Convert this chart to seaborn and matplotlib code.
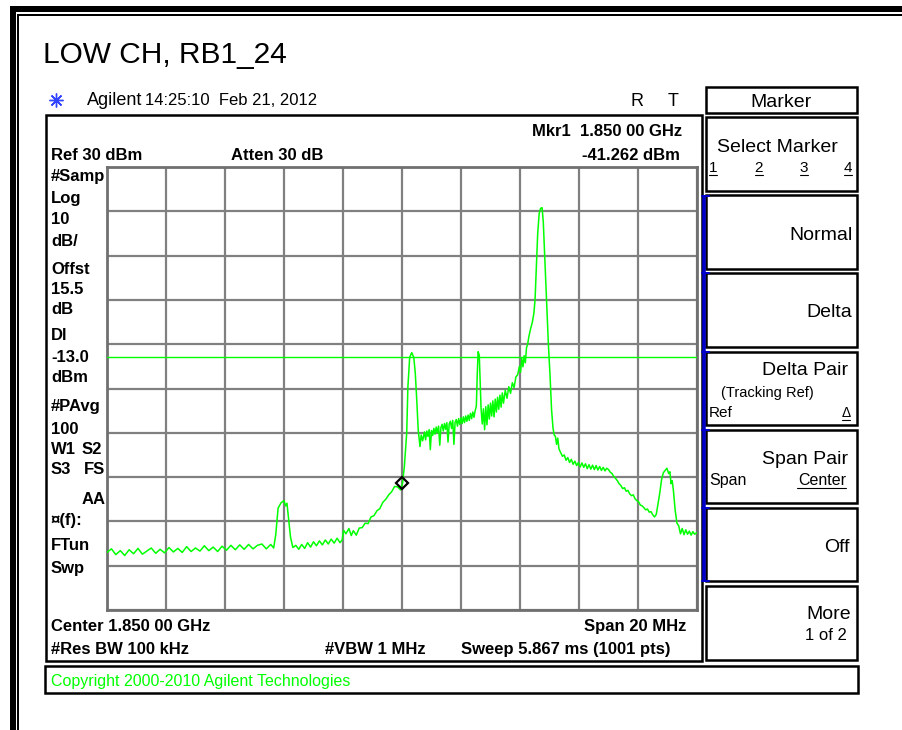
import numpy as np
import pandas as pd
import matplotlib
matplotlib.use("Agg")
import matplotlib.pyplot as plt
from matplotlib.patches import Rectangle
import seaborn as sns

sns.set_style("white")
plt.rcParams['font.family'] = ['Liberation Sans', 'DejaVu Sans']

# trace: offset from 1.850 GHz (MHz) vs level (dBm)
freq_mhz = [
    -10.0, -9.85, -9.7, -9.55, -9.4, -9.25, -9.1, -8.95, -8.8, -8.65, -8.5, -8.35, -8.2, -8.05,
    -7.9, -7.75, -7.6, -7.45, -7.3, -7.15, -7.0, -6.85, -6.7, -6.55, -6.4, -6.25, -6.1, -5.95,
    -5.8, -5.65, -5.5, -5.35, -5.2, -5.05, -4.9, -4.75, -4.6, -4.45, -4.35,
    -4.28, -4.2, -4.1, -4.0, -3.95, -3.9, -3.85, -3.78, -3.7, -3.6, -3.5, -3.4, -3.3, -3.2,
    -3.1, -3.0, -2.9, -2.8, -2.7, -2.6, -2.5, -2.4, -2.3, -2.2, -2.1, -2.03,
    -1.98, -1.9, -1.8, -1.72, -1.65, -1.55, -1.45, -1.35, -1.25, -1.15, -1.05, -0.95, -0.85,
    -0.75, -0.65, -0.55, -0.45, -0.35, -0.25, -0.15, -0.05, 0.02, 0.08, 0.16, 0.2, 0.26,
    0.33, 0.4, 0.45, 0.5, 0.55, 0.61, 0.65, 0.7,
    0.76, 0.8, 0.84, 0.88, 0.92, 0.96, 1.0, 1.04, 1.08, 1.12, 1.16, 1.2, 1.24, 1.28, 1.32,
    1.36, 1.4, 1.44, 1.48, 1.52, 1.56, 1.6, 1.64, 1.68, 1.72, 1.76, 1.8, 1.84, 1.88, 1.92,
    1.96, 2.0, 2.04, 2.08, 2.12, 2.16, 2.2, 2.24, 2.28, 2.32, 2.36, 2.4, 2.44, 2.48,
    2.52, 2.55, 2.58, 2.62, 2.65, 2.68, 2.72, 2.76, 2.8, 2.84, 2.88, 2.92, 2.96, 3.0, 3.04,
    3.08, 3.12, 3.16, 3.2, 3.24, 3.28, 3.32, 3.36, 3.4, 3.44, 3.5, 3.56, 3.62, 3.68, 3.74,
    3.8, 3.86, 3.92, 3.98, 4.02, 4.06, 4.1, 4.14, 4.18, 4.22, 4.26,
    4.3, 4.36, 4.42, 4.47, 4.51, 4.56, 4.6, 4.65, 4.7, 4.75, 4.79, 4.83, 4.87, 4.91, 4.96,
    5.02, 5.07, 5.12, 5.16, 5.2, 5.24, 5.28, 5.32, 5.38, 5.44, 5.5, 5.56, 5.62, 5.68, 5.74,
    5.8, 5.86, 5.92, 5.98, 6.04, 6.1, 6.16, 6.22, 6.28, 6.34, 6.4, 6.46, 6.52, 6.58, 6.64,
    6.7, 6.76, 6.82, 6.88, 6.94, 7.0, 7.06, 7.12, 7.18, 7.24, 7.3, 7.36, 7.42, 7.48, 7.54,
    7.6, 7.66, 7.72, 7.78, 7.84, 7.9, 7.96, 8.02, 8.08, 8.14, 8.2, 8.26, 8.32, 8.38, 8.44,
    8.5, 8.56, 8.62, 8.68, 8.74, 8.8, 8.86, 8.92, 8.98, 9.04, 9.08, 9.12, 9.16, 9.2, 9.26,
    9.32, 9.38, 9.44, 9.5, 9.56, 9.62, 9.68, 9.74, 9.8, 9.86, 9.92, 10.0,
]
level_dbm = [
    -57.0, -56.2, -57.5, -56.6, -57.7, -56.4, -57.3, -56.1, -57.4, -56.7, -56.0, -57.2, -56.3, -57.1,
    -55.9, -56.9, -56.1, -57.0, -55.7, -56.8, -56.0, -56.7, -55.5, -56.6, -55.8, -56.8, -55.6, -56.5,
    -55.4, -56.4, -55.3, -56.3, -55.2, -56.2, -55.4, -55.1, -56.2, -55.2, -56.0,
    -53.0, -47.0, -45.8, -45.3, -46.5, -45.9, -49.0, -53.5, -55.9, -55.4, -56.3, -55.2, -56.1, -54.8,
    -55.8, -54.6, -55.5, -54.4, -55.3, -54.2, -55.1, -54.0, -54.9, -53.8, -54.8, -54.2,
    -52.0, -52.8, -51.6, -53.2, -52.1, -53.1, -51.5, -51.4, -50.4, -50.5, -49.0, -48.7, -47.6,
    -47.1, -45.7, -45.0, -44.0, -43.3, -42.1, -42.2, -42.9, -41.3, -37.6, -30.0, -19.6, -13.0,
    -11.9, -13.0, -16.5, -22.6, -29.4, -33.1, -30.5, -31.8,
    -29.8, -31.6, -29.6, -30.8, -29.3, -33.8, -29.5, -30.6, -29.0, -30.3, -28.7, -30.0, -28.5, -32.8, -28.8,
    -28.1, -29.6, -27.9, -29.2, -27.7, -32.1, -28.0, -27.4, -29.0, -27.2, -32.6, -27.6, -27.0, -28.5, -26.8,
    -28.1, -26.6, -27.9, -26.4, -27.7, -26.2, -27.4, -26.0, -27.2, -25.6, -26.8, -25.3, -26.5, -25.0,
    -24.0, -17.0, -11.7, -12.5, -18.5, -24.5, -28.0, -24.6, -29.3, -24.1, -28.2, -23.7, -26.9, -23.3, -26.2,
    -22.8, -26.4, -22.4, -25.3, -22.0, -24.7, -21.5, -24.2, -21.0, -23.3, -20.4, -22.2, -19.6, -21.1, -18.7,
    -19.8, -17.4, -16.9, -15.0, -16.3, -13.2, -15.1, -12.6, -14.2, -10.8, -10.0,
    -8.3, -6.5, -5.0, -3.0, 0.0, 8.0, 15.0, 19.5, 20.7, 20.8, 17.5, 11.0, 4.0, -2.0, -9.7,
    -17.3, -24.8, -29.0, -30.5, -30.8, -32.6, -31.2, -33.6, -34.5, -35.3, -35.0, -36.2, -35.6, -36.7, -36.0,
    -37.1, -36.4, -37.4, -36.7, -37.7, -36.8, -37.8, -37.0, -38.1, -37.2, -38.2, -37.3, -38.3, -37.4, -38.4,
    -37.6, -38.5, -37.8, -38.6, -38.0, -38.3, -38.9, -39.2, -39.9, -40.3, -40.8, -41.5, -41.9, -42.6, -42.4,
    -43.2, -43.0, -43.8, -44.2, -44.0, -44.9, -45.3, -45.6, -46.3, -46.5, -46.9, -47.4, -47.2, -47.9, -47.8,
    -48.5, -49.0, -48.4, -46.0, -43.5, -40.5, -39.0, -38.5, -38.0, -39.2, -38.8, -41.5, -40.8, -43.0, -47.5,
    -50.4, -51.0, -52.8, -51.6, -53.0, -51.9, -52.9, -52.2, -53.1, -52.3, -52.9, -52.5,
]
display_line = -13.0
marker_freq = 0.0
marker_level = -41.262

left_labels = [("#Samp", 175), ("Log", 197), ("10", 218), ("dB/", 240), ("Offst", 268),
               ("15.5", 289), ("dB", 309), ("Dl", 335), ("-13.0", 356), ("dBm", 377),
               ("#PAvg", 406), ("100", 428), ("W1", 448), ("S3", 469), ("\u00a4(f):", 519),
               ("FTun", 544), ("Swp", 567)]

green = "#00ff00"
W, H = 903, 730
fig = plt.figure(figsize=(W / 100, H / 100), dpi=100)

# pixel-space overlay for the instrument frame and annotations
bg = fig.add_axes([0, 0, 1, 1])
bg.set_xlim(0, W)
bg.set_ylim(H, 0)
bg.axis("off")

def px(v):
    return v * 72 / 100

# outer double frame
bg.plot([10, W], [9, 9], color="black", lw=px(6), solid_capstyle="butt")
bg.plot([17, W], [14.5, 14.5], color="black", lw=px(2), solid_capstyle="butt")
bg.plot([13, 13], [6, H], color="black", lw=px(6), solid_capstyle="butt")
bg.plot([18.5, 18.5], [14, H], color="black", lw=px(2), solid_capstyle="butt")

bg.add_patch(Rectangle((46, 115), 656, 546, fill=False, ec="black", lw=px(2.5)))
bg.add_patch(Rectangle((45, 666), 813, 27, fill=False, ec="black", lw=px(2.5)))

menu_boxes = [(87, 26), (117, 74), (195, 74), (273, 74), (352, 73), (430, 73), (508, 73), (586, 74)]
for y0, h in menu_boxes:
    bg.add_patch(Rectangle((706, y0), 151, h, fill=False, ec="black", lw=px(2.5)))
bg.plot([704, 704], [196, 581], color="#0000cc", lw=px(3.5), solid_capstyle="butt")
for yb in [196, 273, 352, 430, 508, 581]:
    bg.plot([702, 709], [yb, yb], color="#0000cc", lw=px(2))

txt = dict(color="black", va="baseline")
bg.text(43, 63, "LOW CH, RB1_24", fontsize=21.5, **txt)
bg.plot(56, 100, marker=(8, 2, 0), ms=10, color="#3344ff", mew=1)
bg.text(87, 105, "Agilent", fontsize=13, **txt)
bg.text(145, 105, "14:25:10  Feb 21, 2012", fontsize=12, **txt)
bg.text(631, 106, "R", fontsize=13, **txt)
bg.text(668, 106, "T", fontsize=13, **txt)

bold = dict(fontsize=12, fontweight="bold", color="black", va="baseline")
bg.text(51, 160, "Ref 30 dBm", **bold)
bg.text(231, 160, "Atten 30 dB", **bold)
bg.text(682, 136, "Mkr1  1.850 00 GHz", ha="right", **bold)
bg.text(680, 160, "-41.262 dBm", ha="right", **bold)
bg.text(51, 631, "Center 1.850 00 GHz", **bold)
bg.text(686, 631, "Span 20 MHz", ha="right", **bold)
bg.text(51, 654, "#Res BW 100 kHz", **bold)
bg.text(325, 654, "#VBW 1 MHz", **bold)
bg.text(461, 654, "Sweep 5.867 ms (1001 pts)", **bold)
for label, yc in left_labels:
    bg.text(51, yc + 5.5, label, **bold)
bg.text(82, 453.5, "S2", **bold)
bg.text(84, 474.5, "FS", **bold)
bg.text(106, 503.5, "AA", ha="right", **bold)

bg.text(51, 686, "Copyright 2000-2010 Agilent Technologies", fontsize=11.5, color=green, va="baseline")

menu = dict(fontsize=14, color="black", va="baseline")
bg.text(781, 107, "Marker", ha="center", **menu)
bg.text(777, 152, "Select Marker", ha="center", **menu)
for s, xs in zip("1234", [713, 759, 804, 848]):
    bg.text(xs, 172, s, ha="center", fontsize=11, va="baseline", color="black")
    bg.plot([xs - 4, xs + 4], [175, 175], color="black", lw=0.8)
bg.text(853, 240, "Normal", ha="right", **menu)
bg.text(852, 317, "Delta", ha="right", **menu)
bg.text(848, 375, "Delta Pair", ha="right", **menu)
bg.text(767, 397, "(Tracking Ref)", ha="center", fontsize=10.5, color="black", va="baseline")
bg.text(709, 417, "Ref", fontsize=11, color="black", va="baseline")
bg.text(846, 417, "\u0394", ha="center", fontsize=10, color="black", va="baseline")
bg.plot([842, 850], [420, 420], color="black", lw=0.8)
bg.text(848, 464, "Span Pair", ha="right", **menu)
bg.text(709, 485, "Span", fontsize=11.5, color="black", va="baseline")
bg.text(846, 485, "Center", ha="right", fontsize=11.5, color="black", va="baseline")
bg.plot([797, 846], [488, 488], color="black", lw=0.8)
bg.text(850, 552, "Off", ha="right", **menu)
bg.text(851, 619, "More", ha="right", **menu)
bg.text(847, 640, "1 of 2", ha="right", fontsize=12, color="black", va="baseline")

# graticule
ax = fig.add_axes([107 / W, (H - 610) / H, 590 / W, 443 / H])
df = pd.DataFrame({"freq": freq_mhz, "level": level_dbm})
sns.lineplot(data=df, x="freq", y="level", ax=ax, color=green, lw=1.1,
             estimator=None, sort=False, zorder=3)
ax.axhline(display_line, color=green, lw=1.0, zorder=3)
ax.plot(marker_freq, marker_level, marker="D", ms=6.5, mfc="none", mec="black", mew=1.6, zorder=4)
ax.set_xlim(-10, 10)
ax.set_ylim(-70, 30)
ax.set_xticks(np.arange(-10, 11, 2))
ax.set_yticks(np.arange(-70, 31, 10))
ax.grid(True, color="#808080", lw=1.6)
ax.tick_params(length=0, labelbottom=False, labelleft=False)
ax.set_xlabel("")
ax.set_ylabel("")
for sp in ax.spines.values():
    sp.set_color("#707070")
    sp.set_linewidth(2)

fig.savefig("out.png", dpi=100)
